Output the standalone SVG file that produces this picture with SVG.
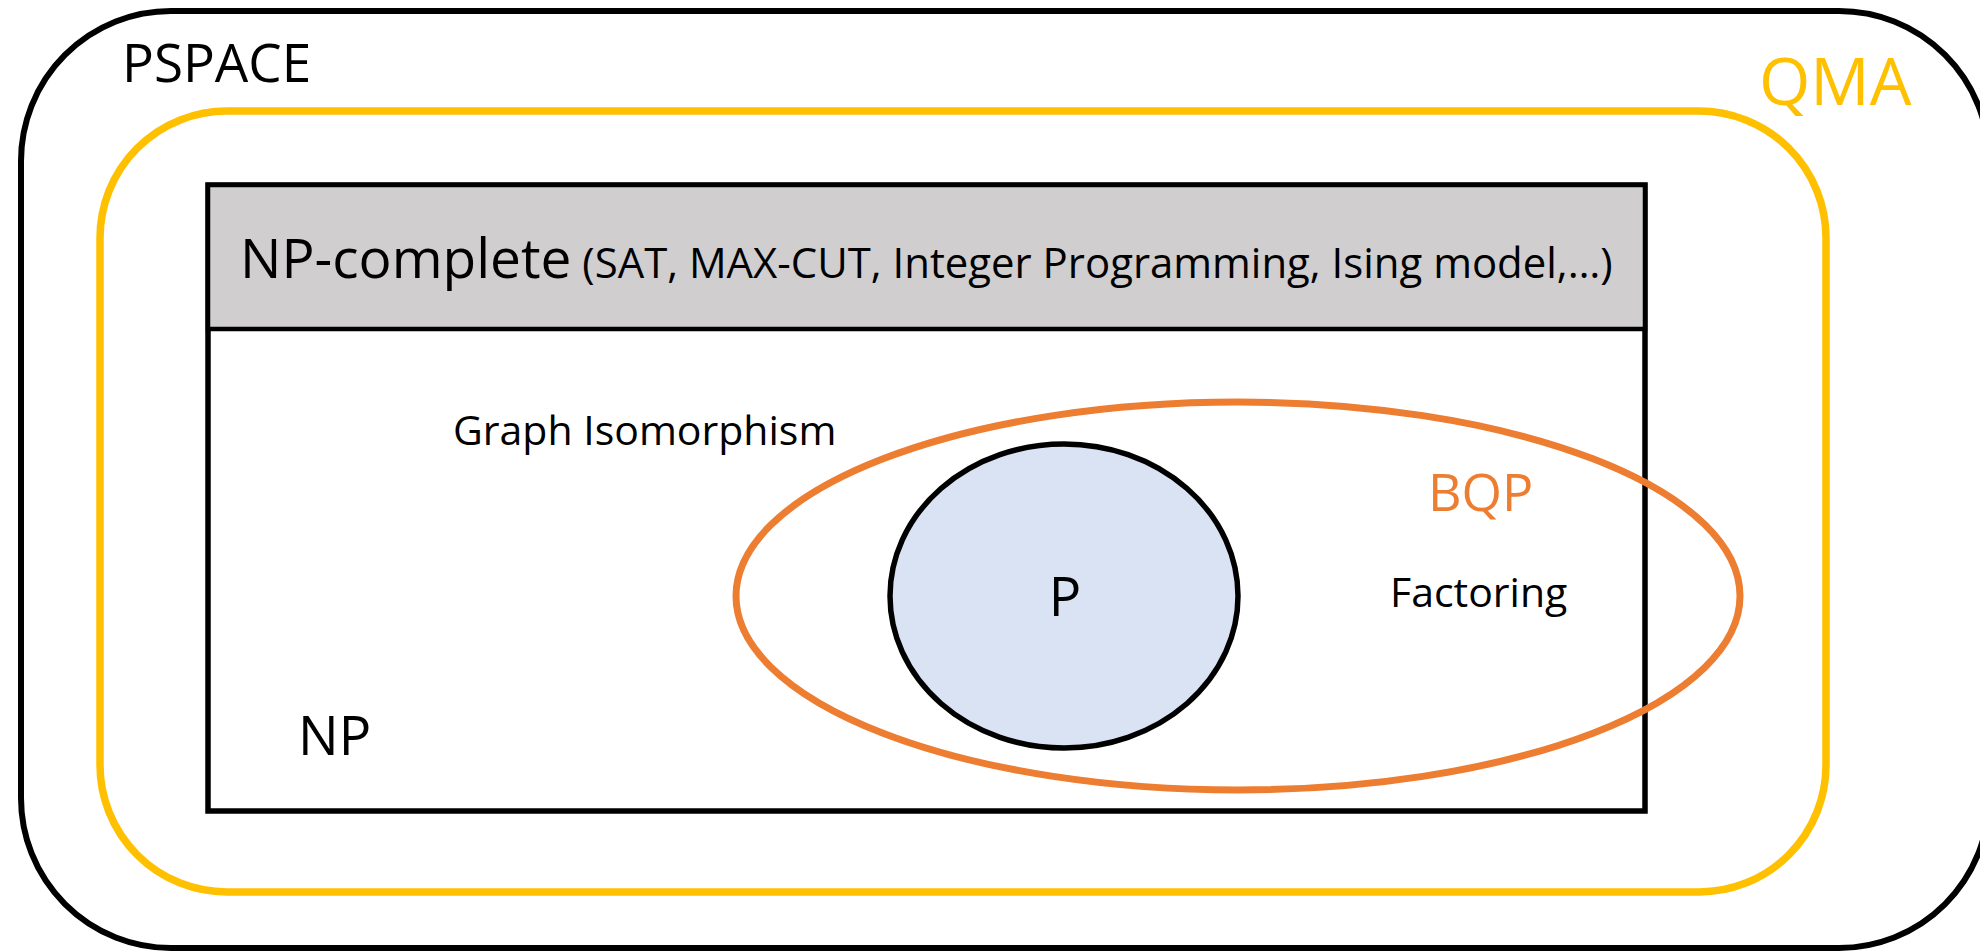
<svg xmlns="http://www.w3.org/2000/svg" width="1980" height="951" viewBox="0 0 1980 951">
  <style>
    text { font-family: "Open Sans", "Noto Sans", "Liberation Sans", sans-serif; }
    .black { fill: #000000; }
    .orange { fill: #ED7D31; }
    .gold { fill: #FFC000; }
  </style>
  <rect x="0" y="0" width="1980" height="951" fill="#FFFFFF"/>
  <g id="pspace">
    <rect x="21" y="11" width="1968" height="937" rx="150" ry="150" fill="#FFFFFF" stroke="#000000" stroke-width="6"/>
    <text x="122" y="82" font-size="53" class="black">PSPACE</text>
  </g>
  <g id="qma">
    <rect x="100" y="111" width="1726" height="781" rx="127" ry="127" fill="none" stroke="#FFC000" stroke-width="7.5"/>
    <text x="1759" y="105" font-size="66" class="gold">QMA</text>
  </g>
  <g id="np">
    <rect x="208" y="185" width="1437" height="626" fill="#FFFFFF" stroke="#000000" stroke-width="5.5"/>
    <text x="298" y="755" font-size="54" class="black">NP</text>
  </g>
  <g id="np-complete">
    <rect x="208" y="185" width="1437" height="144" fill="#D0CECE" stroke="#000000" stroke-width="4.5"/>
    <text x="240" y="278" class="black"><tspan font-size="55">NP-complete</tspan><tspan font-size="41.9"> (SAT, MAX-CUT, Integer Programming, Ising model,…)</tspan></text>
  </g>
  <g id="graph-isomorphism">
    <text x="453" y="445" font-size="41" class="black">Graph Isomorphism</text>
  </g>
  <g id="bqp">
    <ellipse cx="1238" cy="596" rx="502" ry="194" fill="none" stroke="#ED7D31" stroke-width="7"/>
    <text x="1428" y="511" font-size="52" class="orange">BQP</text>
  </g>
  <g id="factoring">
    <text x="1390" y="607" font-size="41" class="black">Factoring</text>
  </g>
  <g id="p">
    <ellipse cx="1064" cy="596" rx="174" ry="152" fill="#DAE3F3" stroke="#000000" stroke-width="5.5"/>
    <text x="1065" y="616" font-size="54" text-anchor="middle" class="black">P</text>
  </g>
  <g id="connectors"/>
</svg>
